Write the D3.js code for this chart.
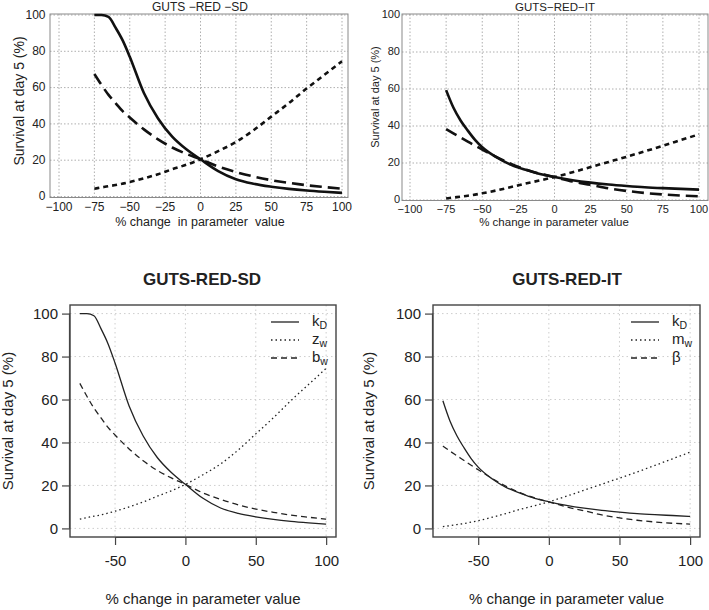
<!DOCTYPE html>
<html>
<head>
<meta charset="utf-8">
<script src="https://cdn.jsdelivr.net/npm/d3@7"></script>
<style>
  body { margin: 0; background: #fff; }
  svg { display: block; }
  text { font-family: "Liberation Sans", Arial, Helvetica, sans-serif; fill: #222; }
</style>
</head>
<body>
<svg id="chart" width="709" height="610"></svg>
<script>
// ---------------- DATA ----------------
const pctChange = [-75, -70, -65, -60, -55, -50, -40, -30, -20, -10, 0, 12.5, 25, 37.5, 50, 62.5, 75, 87.5, 100];

// GUTS-RED-SD
const sdKD = [100, 100, 99, 93, 86, 77, 57, 43, 33, 26, 20.5, 14, 9.5, 7, 5.4, 4.2, 3.3, 2.6, 2.0];
const sdZw = [4.3, 5, 5.7, 6.3, 7.1, 8, 10, 12.3, 15, 17.5, 20.5, 25, 30, 36.5, 44, 51.5, 59.5, 67, 74.5];
const sdBw = [67.5, 61.5, 56, 51.5, 47, 43.5, 37, 31.5, 27, 23.5, 20.5, 16.5, 13.5, 11, 9, 7.5, 6.2, 5.2, 4.3];

// GUTS-RED-IT
const itKD = [59.4, 50, 43, 37.5, 32.5, 28.5, 23, 19, 16.3, 14, 12.4, 10.7, 9.4, 8.4, 7.6, 6.9, 6.4, 6.0, 5.6];
const itMw = [0.8, 1.3, 1.8, 2.3, 2.9, 3.6, 5.2, 7, 8.9, 10.6, 12.4, 15, 17.8, 20.6, 23.4, 26.3, 29.3, 32.4, 35.5];
const itBeta = [38.3, 36, 33.8, 31.6, 29.4, 27.3, 23.2, 19.5, 16.5, 14.2, 12.4, 10, 8.2, 6.3, 4.9, 3.8, 3.0, 2.4, 2.0];

const topXTicks = [-100, -75, -50, -25, 0, 25, 50, 75, 100];
const topYTicks = [0, 20, 40, 60, 80, 100];
const botXTicks = [-50, 0, 50, 100];
const botYTicks = [0, 20, 40, 60, 80, 100];

const topTitles = ["GUTS \u2212RED \u2212SD", "GUTS\u2212RED\u2212IT"];
const botTitles = ["GUTS-RED-SD", "GUTS-RED-IT"];
const yTitle = "Survival at day 5 (%)";
const topXTitles = ["% change\u00a0 in parameter\u00a0 value", "% change in parameter value"];
const botXTitle = "% change in parameter value";
const legendSD = [["k", "D"], ["z", "w"], ["b", "w"]];
const legendIT = [["k", "D"], ["m", "w"], ["\u03b2", ""]];

// ---------------- DRAW ----------------
const svg = d3.select("#chart");
const fmt = d3.format("d"); // uses U+2212 minus

function series(ys) { return pctChange.map((x, i) => ({ x, y: ys[i] })); }

// Mathematica-style top panels
function topPanel(cfg) {
  const g = svg.append("g");
  const x = d3.scaleLinear().domain([-100, 100]).range(cfg.xr);
  const y = d3.scaleLinear().domain([0, 100]).range(cfg.yr);
  const f = cfg.frame;

  g.selectAll(".gx").data(topXTicks).join("line")
    .attr("x1", d => x(d)).attr("x2", d => x(d)).attr("y1", f.y0).attr("y2", f.y1)
    .attr("stroke", "#9a9a9a").attr("stroke-width", 0.8).attr("stroke-dasharray", "1.5,2");
  g.selectAll(".gy").data(topYTicks).join("line")
    .attr("x1", f.x0).attr("x2", f.x1).attr("y1", d => y(d)).attr("y2", d => y(d))
    .attr("stroke", "#9a9a9a").attr("stroke-width", 0.8).attr("stroke-dasharray", "1.5,2");

  g.append("rect").attr("x", f.x0).attr("y", f.y0).attr("width", f.x1 - f.x0).attr("height", f.y1 - f.y0)
    .attr("fill", "none").attr("stroke", "#8a8a8a").attr("stroke-width", 1);

  g.selectAll(".tx").data(topXTicks).join("text")
    .attr("x", d => x(d)).attr("y", cfg.xLabY).attr("text-anchor", "middle")
    .attr("font-size", cfg.tickFs).text(d => fmt(d));
  g.selectAll(".ty").data(topYTicks).join("text")
    .attr("x", f.x0 - cfg.yLabGap).attr("y", d => y(d)).attr("dy", "0.3em").attr("text-anchor", "end")
    .attr("font-size", cfg.tickFs).text(d => fmt(d));

  const line = d3.line().x(d => x(d.x)).y(d => y(d.y)).curve(d3.curveMonotoneX);
  const styles = [["", cfg.data[0]], ["5,4", cfg.data[1]], ["12,6", cfg.data[2]]];
  styles.forEach(([dash, ys]) => {
    g.append("path").datum(series(ys)).attr("d", line)
      .attr("fill", "none").attr("stroke", "#111").attr("stroke-width", 2.6)
      .attr("stroke-dasharray", dash || null);
  });

  g.append("text").attr("x", cfg.titleX).attr("y", 10.5).attr("text-anchor", "middle")
    .attr("font-size", cfg.titleFs).text(cfg.title);
  g.append("text").attr("x", cfg.xTitleX).attr("y", 226).attr("text-anchor", "middle")
    .attr("font-size", cfg.xTitleFs).text(cfg.xTitle);
  g.append("text").attr("transform", `translate(${cfg.yTitleX},${cfg.yTitleY}) rotate(-90)`)
    .attr("text-anchor", "middle").attr("font-size", cfg.yTitleFs).text(yTitle);
}

// R-style bottom panels
function botPanel(cfg) {
  const g = svg.append("g");
  const x = d3.scaleLinear().domain([-82, 107]).range(cfg.xr);
  const y = d3.scaleLinear().domain([-4, 104]).range([537, 305]);
  const [x0, x1] = cfg.xr, y0 = 305, y1 = 537;

  g.selectAll(".gx").data(botXTicks).join("line")
    .attr("x1", d => x(d)).attr("x2", d => x(d)).attr("y1", y0).attr("y2", y1)
    .attr("stroke", "#c8c8c8").attr("stroke-width", 0.9).attr("stroke-dasharray", "1.5,3");
  g.selectAll(".gy").data(botYTicks).join("line")
    .attr("x1", x0).attr("x2", x1).attr("y1", d => y(d)).attr("y2", d => y(d))
    .attr("stroke", "#c8c8c8").attr("stroke-width", 0.9).attr("stroke-dasharray", "1.5,3");

  const line = d3.line().x(d => x(d.x)).y(d => y(d.y)).curve(d3.curveMonotoneX);
  const styles = [["", cfg.data[0]], ["1.5,3", cfg.data[1]], ["6,4", cfg.data[2]]];
  styles.forEach(([dash, ys]) => {
    g.append("path").datum(series(ys)).attr("d", line)
      .attr("fill", "none").attr("stroke", "#222").attr("stroke-width", 1.3)
      .attr("stroke-dasharray", dash || null);
  });

  g.append("rect").attr("x", x0).attr("y", y0).attr("width", x1 - x0).attr("height", y1 - y0)
    .attr("fill", "none").attr("stroke", "#444").attr("stroke-width", 1.4);

  const xAxis = d3.axisBottom(x).tickValues(botXTicks).tickSize(8).tickPadding(10).tickFormat(d3.format("d"));
  const gx = g.append("g").attr("transform", `translate(0,${y1})`).call(xAxis);
  gx.select(".domain").attr("d", `M${x(-50)},0.5H${x(100)}`).attr("stroke", "#444").attr("stroke-width", 1.2);
  gx.selectAll(".tick line").attr("stroke", "#444").attr("stroke-width", 1.2);
  gx.selectAll(".tick text").attr("font-size", 15).attr("font-family", "Liberation Sans, Arial, sans-serif")
    .attr("fill", "#222").text(d => d3.format("d")(d).replace("\u2212", "-"));

  const yAxis = d3.axisLeft(y).tickValues(botYTicks).tickSize(8).tickPadding(4);
  const gy = g.append("g").attr("transform", `translate(${x0},0)`).call(yAxis);
  gy.select(".domain").attr("d", `M-0.5,${y(0)}V${y(100)}`).attr("stroke", "#444").attr("stroke-width", 1.2);
  gy.selectAll(".tick line").attr("stroke", "#444").attr("stroke-width", 1.2);
  gy.selectAll(".tick text").attr("font-size", 15).attr("font-family", "Liberation Sans, Arial, sans-serif").attr("fill", "#222");

  g.append("text").attr("x", cfg.titleX).attr("y", 285).attr("text-anchor", "middle")
    .attr("font-size", 17).attr("font-weight", "bold").attr("fill", "#111").text(cfg.title);
  g.append("text").attr("x", (x0 + x1) / 2).attr("y", 604).attr("text-anchor", "middle")
    .attr("font-size", 15).text(botXTitle);
  g.append("text").attr("transform", `translate(${cfg.yTitleX},421) rotate(-90)`)
    .attr("text-anchor", "middle").attr("font-size", 15).text(yTitle);

  const rows = [322, 340, 358];
  const dashes = ["", "1.5,3", "6,4"];
  cfg.legend.forEach((lab, i) => {
    g.append("line").attr("x1", cfg.legX).attr("x2", cfg.legX + 28).attr("y1", rows[i]).attr("y2", rows[i])
      .attr("stroke", "#222").attr("stroke-width", 1.3).attr("stroke-dasharray", dashes[i] || null);
    const t = g.append("text").attr("x", cfg.legX + 41).attr("y", rows[i] + 4).attr("font-size", 15);
    t.append("tspan").text(lab[0]);
    if (lab[1]) t.append("tspan").attr("font-size", 10.5).attr("dy", 3).text(lab[1]);
  });
}

topPanel({
  xr: [59, 342], yr: [196.5, 15], frame: { x0: 50, x1: 348, y0: 14, y1: 197.5 },
  xLabY: 210.5, tickFs: 12, yLabGap: 4.5, title: topTitles[0], titleX: 200, titleFs: 12,
  xTitle: topXTitles[0], xTitleX: 200, xTitleFs: 12.5,
  yTitleX: 24, yTitleY: 101, yTitleFs: 14,
  data: [sdKD, sdZw, sdBw]
});
topPanel({
  xr: [410, 699], yr: [200, 15], frame: { x0: 402, x1: 708, y0: 14, y1: 200.5 },
  xLabY: 213, tickFs: 11, yLabGap: 2, title: topTitles[1], titleX: 555, titleFs: 11.5,
  xTitle: topXTitles[1], xTitleX: 554, xTitleFs: 11.5,
  yTitleX: 379, yTitleY: 97, yTitleFs: 11,
  data: [itKD, itMw, itBeta]
});
botPanel({ xr: [70, 336], title: botTitles[0], titleX: 202, yTitleX: 13, legX: 271, legend: legendSD, data: [sdKD, sdZw, sdBw] });
botPanel({ xr: [433, 700], title: botTitles[1], titleX: 567, yTitleX: 374, legX: 631, legend: legendIT, data: [itKD, itMw, itBeta] });
</script>
</body>
</html>
